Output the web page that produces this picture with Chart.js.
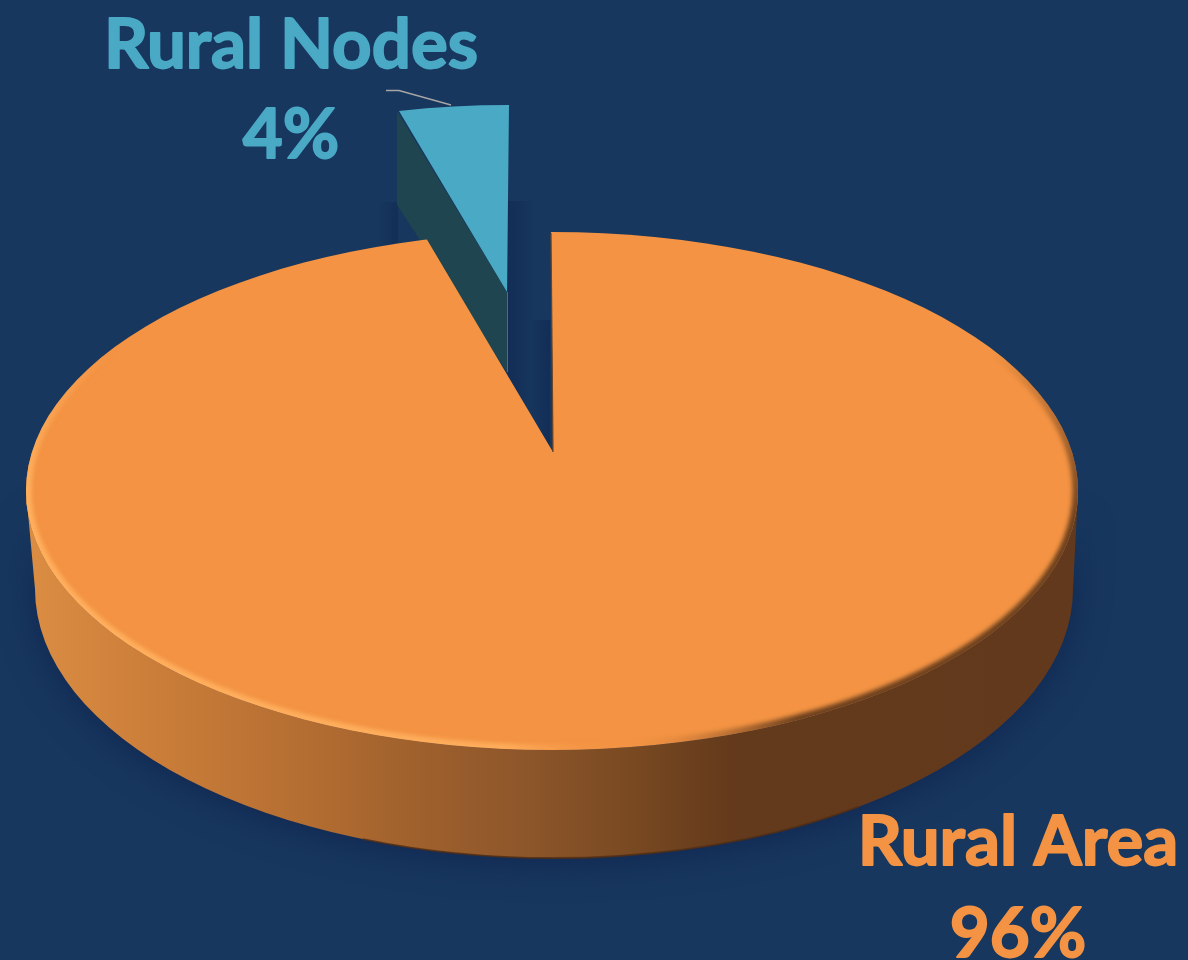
<!DOCTYPE html>
<html>
<head>
<meta charset="utf-8">
<title>Rural Area vs Rural Nodes</title>
<script src="https://cdn.jsdelivr.net/npm/chart.js@4"></script>
<style>
  html, body { margin: 0; padding: 0; background: #17375E; }
  canvas { display: block; }
</style>
</head>
<body>
<canvas id="pie" width="1188" height="960"></canvas>
<script>
const categories = ['Rural Area', 'Rural Nodes'];
const shares = [96, 4];
const sliceColors = ['#F39343', '#4AA9C5'];

// Palette tokens
const theme = {
    bg: '#17375E',
    font: "Lato, 'Open Sans', sans-serif",
    leader: '#A6A6A6',
    nodeWall: '#1F4650'
};

// Canvas can't do real perspective, so each slice gets its own affine placement
const face = { x: 552, y: 491, rx: 526, ry: 259 };
const base = { x: 554, y: 589, rx: 519, ry: 269 };

function placeArc(ctx, arc, x, y, sx, sy, shear) {
    ctx.translate(x, y);
    ctx.transform(1, 0, shear, 1, 0, 0);
    ctx.scale(sx, sy);
    ctx.translate(-arc.x, -arc.y);
}

function drawGapShadows(ctx) {
    let g = ctx.createLinearGradient(508, 0, 534, 0);
    g.addColorStop(0, 'rgba(15,36,80,0.5)');
    g.addColorStop(1, 'rgba(15,36,80,0)');
    ctx.fillStyle = g;
    ctx.fillRect(508, 201, 26, 250);
    g = ctx.createLinearGradient(530, 0, 550, 0);
    g.addColorStop(0, 'rgba(15,36,80,0)');
    g.addColorStop(1, 'rgba(15,36,80,0.5)');
    ctx.fillStyle = g;
    ctx.fillRect(530, 320, 20, 132);
    g = ctx.createLinearGradient(380, 0, 398, 0);
    g.addColorStop(0, 'rgba(15,36,80,0)');
    g.addColorStop(1, 'rgba(15,36,80,0.45)');
    ctx.fillStyle = g;
    ctx.fillRect(380, 202, 18, 45);
}

function drawNodeSlice(ctx, arc) {
    ctx.fillStyle = theme.nodeWall;
    ctx.beginPath();
    ctx.moveTo(397, 111);
    ctx.lineTo(507, 292);
    ctx.lineTo(507, 372);
    ctx.lineTo(397, 205);
    ctx.closePath();
    ctx.fill();

    ctx.strokeStyle = 'rgba(74,169,197,0.55)';
    ctx.lineWidth = 1;
    ctx.beginPath();
    ctx.moveTo(507.5, 292);
    ctx.lineTo(507.5, 372);
    ctx.stroke();

    ctx.save();
    placeArc(ctx, arc, 507, 292, 0.842, 0.356, -0.0107);
    arc.draw(ctx);
    ctx.restore();
}

function drawAreaWall(ctx) {
    const g = ctx.createLinearGradient(27, 0, 1078, 0);
    [[0, '#DB8D43'], [0.12, '#CB7E39'], [0.26, '#B56E32'], [0.36, '#A1622D'],
     [0.48, '#8C552A'], [0.57, '#7A4A22'], [0.67, '#633A1B'], [1, '#62391C']]
        .forEach(s => g.addColorStop(s[0], s[1]));

    ctx.save();
    ctx.shadowColor = 'rgba(14,32,76,0.75)';
    ctx.shadowBlur = 34;
    ctx.shadowOffsetY = 4;
    ctx.fillStyle = g;
    ctx.beginPath();
    ctx.ellipse(face.x, face.y, face.rx, face.ry, 0, 0, Math.PI);
    ctx.lineTo(base.x - base.rx, base.y);
    ctx.ellipse(base.x, base.y, base.rx, base.ry, 0, Math.PI, 0, true);
    ctx.closePath();
    ctx.fill();
    ctx.restore();

    // darker seam along the bottom of the wall
    ctx.strokeStyle = 'rgba(84,46,20,0.8)';
    ctx.lineWidth = 2;
    ctx.beginPath();
    ctx.ellipse(base.x, base.y, base.rx, base.ry, 0, Math.PI * 0.3, Math.PI * 0.62);
    ctx.stroke();
}

function drawAreaFace(ctx, arc) {
    ctx.save();
    ctx.beginPath();
    ctx.ellipse(face.x, face.y, face.rx, face.ry, 0, 0, Math.PI * 2);
    ctx.clip();

    // arc is oversized and the ellipse clip gives the outline
    ctx.save();
    placeArc(ctx, arc, 553, 452, 1.365, 0.6, 0.0091);
    arc.draw(ctx);
    ctx.restore();

    // bevel: light on the left, soft dark on the right, faded by angle
    const start = -0.3;
    const stop = a => (a - start) / (Math.PI * 2);
    const g = ctx.createConicGradient(start, face.x, face.y);
    g.addColorStop(0, 'rgba(95,56,26,0)');
    g.addColorStop(stop(0.05), 'rgba(95,56,26,0.9)');
    g.addColorStop(stop(0.75), 'rgba(95,56,26,0.9)');
    g.addColorStop(stop(1.3), 'rgba(243,147,67,0)');
    g.addColorStop(stop(1.75), 'rgba(255,176,94,0.9)');
    g.addColorStop(stop(3.15), 'rgba(255,176,94,1)');
    g.addColorStop(stop(3.45), 'rgba(255,176,94,0)');
    g.addColorStop(1, 'rgba(95,56,26,0)');
    ctx.filter = 'blur(2px)';
    ctx.strokeStyle = g;
    ctx.lineWidth = 9;
    ctx.beginPath();
    ctx.ellipse(face.x, face.y, face.rx - 1, face.ry - 1, 0, 0, Math.PI * 2);
    ctx.stroke();
    ctx.restore();

    // thin dark edge down the gap
    ctx.strokeStyle = '#6B4526';
    ctx.lineWidth = 1.2;
    ctx.beginPath();
    ctx.moveTo(551, 233);
    ctx.lineTo(553, 452);
    ctx.stroke();
}

function drawLabel(ctx, text, x, y, color) {
    ctx.fillStyle = color;
    ctx.strokeStyle = color;
    ctx.fillText(text, x, y);
    ctx.strokeText(text, x, y);
}

function drawLabels(ctx) {
    ctx.strokeStyle = theme.leader;
    ctx.lineWidth = 1.5;
    ctx.beginPath();
    ctx.moveTo(386, 90.5);
    ctx.lineTo(399, 90.5);
    ctx.lineTo(451, 105);
    ctx.stroke();

    ctx.font = 'bold 69px ' + theme.font;
    ctx.textAlign = 'center';
    ctx.textBaseline = 'alphabetic';
    ctx.lineWidth = 1.8;
    ctx.lineJoin = 'round';
    drawLabel(ctx, categories[1], 291, 68, sliceColors[1]);
    drawLabel(ctx, shares[1] + '%', 291, 158, sliceColors[1]);
    drawLabel(ctx, categories[0], 1018, 865, sliceColors[0]);
    drawLabel(ctx, shares[0] + '%', 1018, 957, sliceColors[0]);
}

const pie3d = {
    id: 'pie3d',
    beforeDatasetsDraw(chart) {
        const ctx = chart.ctx;
        const arcs = chart.getDatasetMeta(0).data;
        drawGapShadows(ctx);
        drawNodeSlice(ctx, arcs[1]);
        drawAreaWall(ctx);
        drawAreaFace(ctx, arcs[0]);
        drawLabels(ctx);
        return false;
    }
};

new Chart(document.getElementById('pie'), {
    type: 'pie',
    data: {
        labels: categories,
        datasets: [{
            data: shares,
            backgroundColor: sliceColors,
            borderWidth: 0
        }]
    },
    options: {
        responsive: false,
        animation: false,
        radius: 525,
        plugins: {
            legend: { display: false },
            tooltip: { enabled: false }
        }
    },
    plugins: [pie3d]
});
</script>
</body>
</html>
